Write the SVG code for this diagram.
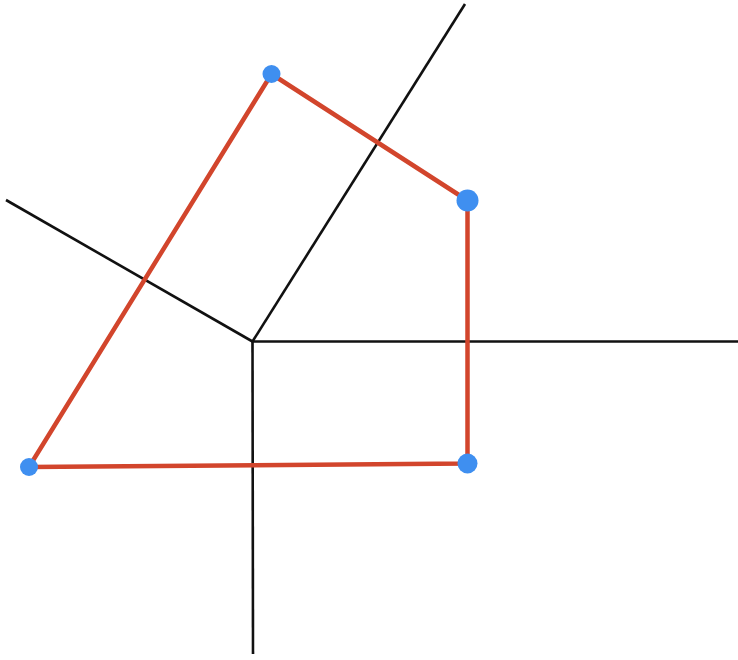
<svg xmlns="http://www.w3.org/2000/svg" width="738" height="660" viewBox="0 0 738 660">
<style>
.edge{stroke:#111;stroke-width:2.6;fill:none;stroke-linecap:butt}
.poly{stroke:#d2452c;stroke-width:4.5;fill:none;stroke-linejoin:round}
.pt{fill:#3f8ff0}
</style>
<rect width="738" height="660" fill="#fff"/>
<g id="connectors">
<line class="edge" x1="252.5" y1="341.5" x2="465" y2="4"/>
<line class="edge" x1="252.5" y1="341.5" x2="6" y2="200"/>
<line class="edge" x1="252.5" y1="341.5" x2="738" y2="341.5"/>
<line class="edge" x1="252.5" y1="340" x2="253" y2="654"/>
</g>
<g id="polygon">
<polygon class="poly" points="271.5,74 467.5,200.5 467.5,463.5 29,467"/>
</g>
<g id="p1"><circle class="pt" cx="271.5" cy="74" r="9"/></g>
<g id="p2"><circle class="pt" cx="467.5" cy="200.5" r="11"/></g>
<g id="p3"><circle class="pt" cx="467.5" cy="463.5" r="10"/></g>
<g id="p4"><circle class="pt" cx="29" cy="467" r="9"/></g>
</svg>
